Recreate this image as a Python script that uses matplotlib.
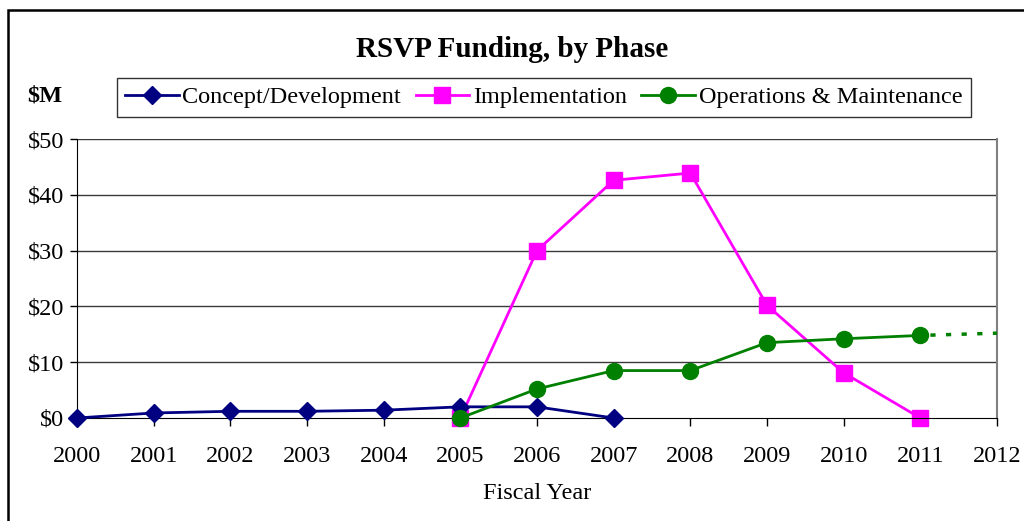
"""RSVP funding by phase, recreated with matplotlib."""

import matplotlib.pyplot as plt
from matplotlib.patches import Rectangle

YEARS = list(range(2000, 2013))

CONCEPT_YEARS = [2000, 2001, 2002, 2003, 2004, 2005, 2006, 2007]
CONCEPT_VALUES = [0.0, 0.9, 1.2, 1.2, 1.4, 2.0, 2.0, 0.0]

IMPL_YEARS = [2005, 2006, 2007, 2008, 2009, 2010, 2011]
IMPL_VALUES = [0.0, 30.0, 42.6, 43.9, 20.2, 8.1, 0.0]

OM_YEARS = [2005, 2006, 2007, 2008, 2009, 2010, 2011]
OM_VALUES = [0.0, 5.2, 8.5, 8.5, 13.5, 14.2, 14.8]
OM_PROJ_YEARS = [2011, 2012]
OM_PROJ_VALUES = [14.8, 15.2]

Y_TICKS = [0, 10, 20, 30, 40, 50]


def main() -> None:
    plt.rcParams["font.family"] = ["Liberation Serif", "DejaVu Serif"]
    fig = plt.figure(figsize=(10.24, 5.21), dpi=100)
    ax = fig.add_axes([0.0752, 0.1977, 0.8984, 0.5355])

    # outer chart frame (partially cut off at right/bottom in the reference)
    fig.patches.append(Rectangle((0.0078, -0.05), 1.1, 1.031, transform=fig.transFigure,
                                 fill=False, edgecolor="black", linewidth=1.8))

    for y in Y_TICKS[1:]:
        ax.axhline(y, color="#3a3a3a", linewidth=1.0, zorder=1)

    ax.plot(CONCEPT_YEARS, CONCEPT_VALUES, color="#000080", marker="D", markersize=9.5,
            linewidth=2, label="Concept/Development", zorder=3, clip_on=False)
    ax.plot(IMPL_YEARS, IMPL_VALUES, color="#ff00ff", marker="s", markersize=11,
            linewidth=2, label="Implementation", zorder=2, clip_on=False)
    ax.plot(OM_YEARS, OM_VALUES, color="#008000", marker="o", markersize=11.5,
            linewidth=2, label="Operations & Maintenance", zorder=4, clip_on=False)
    ax.plot(OM_PROJ_YEARS, OM_PROJ_VALUES, color="#008000", linewidth=2.5,
            linestyle=(1.6, (1.5, 3)), zorder=4, clip_on=False)

    ax.set_xlim(2000, 2012)
    ax.set_ylim(0, 50)
    ax.set_xticks(YEARS)
    ax.set_xticklabels([str(y) for y in YEARS], fontsize=17.5)
    ax.set_yticks(Y_TICKS)
    ax.set_yticklabels([f"${v}" for v in Y_TICKS], fontsize=17.5)
    ax.tick_params(axis="x", direction="out", length=6, width=1, pad=14)
    ax.tick_params(axis="y", direction="out", length=5, width=1, pad=4)
    ax.spines["left"].set_color("black")
    ax.spines["bottom"].set_color("black")
    ax.spines["top"].set_visible(False)
    ax.spines["right"].set_color("#808080")
    ax.spines["right"].set_linewidth(1.5)
    ax.set_xlabel("Fiscal Year", fontsize=17.5, labelpad=12)

    fig.text(0.5, 0.905, "RSVP Funding, by Phase", ha="center", va="center",
             fontsize=21, fontweight="bold")
    fig.text(0.044, 0.815, "$M", ha="center", va="center", fontsize=17.5, fontweight="bold")

    leg = fig.legend(loc="center", bbox_to_anchor=(0.531, 0.813), ncol=3, fontsize=17.5,
                     frameon=True, fancybox=False, edgecolor="black", handlelength=2.2,
                     handletextpad=0.15, columnspacing=0.6, borderpad=0.35)
    leg.get_frame().set_linewidth(1.0)

    fig.savefig("out.png", dpi=100)


if __name__ == "__main__":
    main()
